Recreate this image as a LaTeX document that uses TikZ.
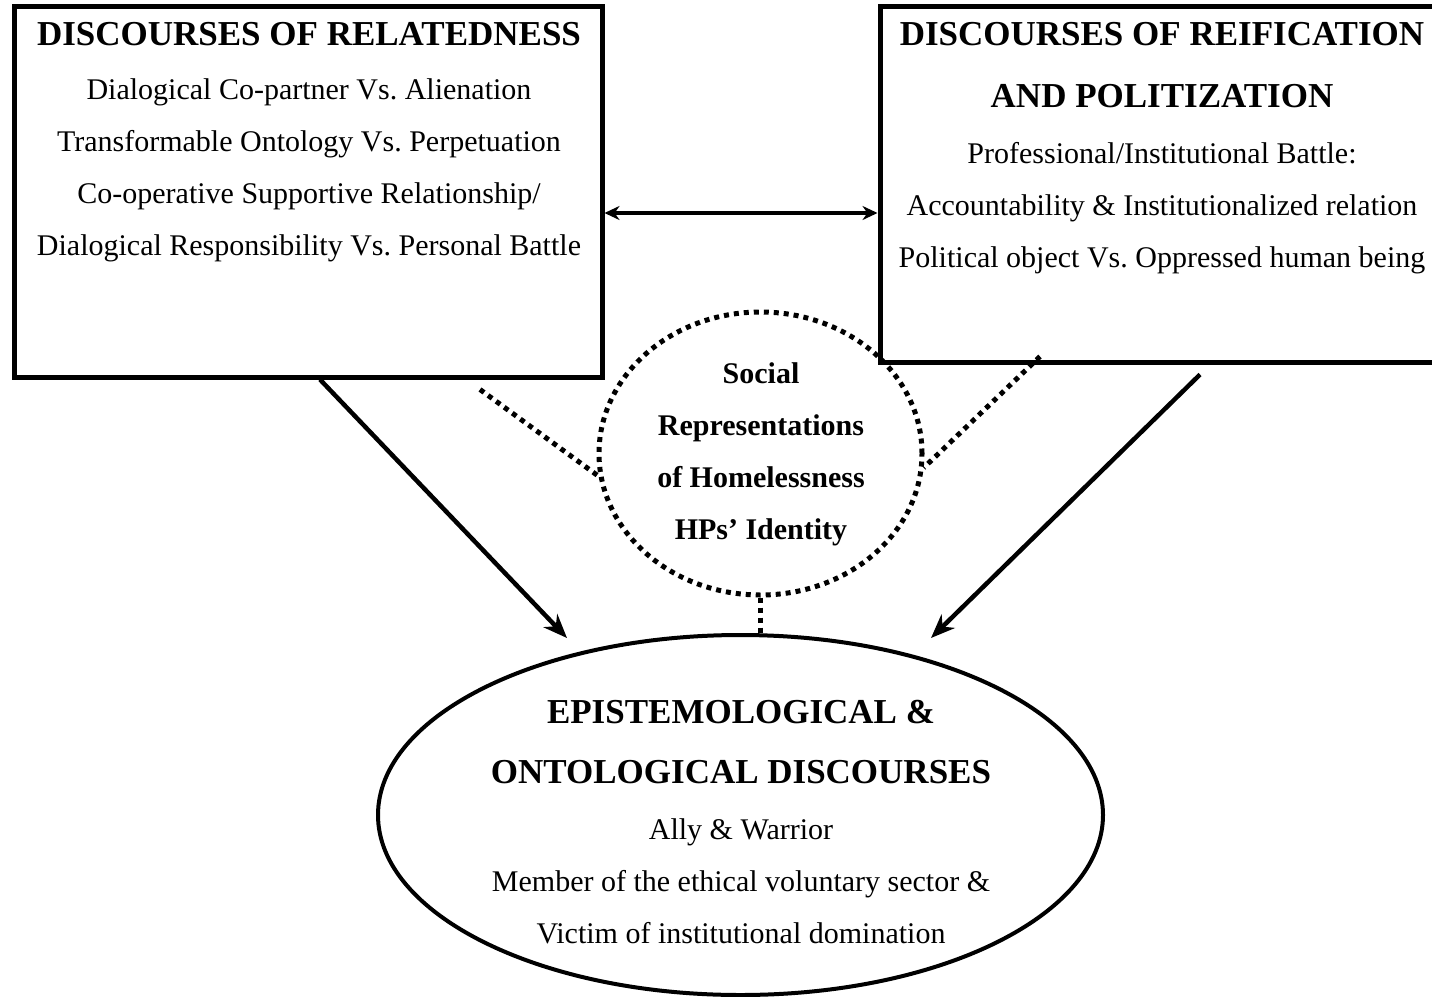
\documentclass[tikz,border=0pt]{standalone}
\usepackage{fontspec}
\setmainfont{Liberation Serif}
\usetikzlibrary{positioning,arrows.meta,shapes.geometric}
\newcommand{\hd}[1]{{\fontsize{35}{52}\selectfont\bfseries #1}}
\frenchspacing

\begin{document}
\begin{tikzpicture}[x=1pt,y=-1pt,every node/.style={inner sep=0pt},
  box/.style={draw,line width=5pt},
  txt/.style={anchor=north,align=center,font=\fontsize{30}{52}\selectfont},
  dots/.style={line width=5pt,dash pattern=on 5pt off 5pt},
  arr/.style={line width=4.5pt,-{Stealth[length=24pt,width=19pt]}},
  dbl/.style={line width=4.5pt,{Stealth[length=15pt,width=14pt]}-{Stealth[length=15pt,width=14pt]}}]
\useasboundingbox (0,0) rectangle (1432,996);
% boxes, circle and ellipse
\node[box,minimum width=588pt,minimum height=371pt] (rel) at (308,191.5) {};
\node[box,minimum width=565pt,minimum height=356pt] (reif) at (1162.5,184) {};
\node[ellipse,dots,draw,minimum width=323pt,minimum height=283pt] (soc) at (760.5,453.5) {};
\node[ellipse,draw,line width=4pt,minimum width=725pt,minimum height=360pt] (epi) at (740.5,815) {};
% texts
\node[txt] (reltxt) at (309,22) {\hd{DISCOURSES OF RELATEDNESS}\\[2pt]
  Dialogical Co-partner Vs. Alienation\\
  Transformable Ontology Vs. Perpetuation\\
  Co-operative Supportive Relationship/\\
  Dialogical Responsibility Vs. Personal Battle};
\node[txt] (reiftxt) at (1162,22) {\hd{DISCOURSES OF REIFICATION}\\[10pt]
  \hd{AND POLITIZATION}\\[4pt]
  Professional/Institutional Battle:\\
  Accountability \& Institutionalized relation\\
  Political object Vs. Oppressed human being};
\node[txt,font=\fontsize{30}{52}\selectfont\bfseries] (soctxt) at (761,362) {Social\\
  Representations\\ of Homelessness\\ HPs’ Identity};
\node[txt] (epitxt) at (741,700) {\hd{EPISTEMOLOGICAL \&}\\[8pt]
  \hd{ONTOLOGICAL DISCOURSES}\\[4pt]
  Ally \& Warrior\\
  Member of the ethical voluntary sector \&\\
  Victim of institutional domination};
% connectors
\coordinate (tipL) at (567,638);
\coordinate (tipR) at (931,638);
\draw[dbl] ([yshift=-21.5pt]rel.east) -- ([yshift=-21.5pt]rel.east -| reif.west);
\draw[arr] ([xshift=12pt]rel.south) -- (tipL);
\draw[arr] ([shift={(37.5pt,-10pt)}]reif.south) -- (tipR);
\draw[dots] ([shift={(172pt,-10pt)}]rel.south) -- (soc.188);
\draw[dots] ([shift={(-122.5pt,8pt)}]reif.south) -- (soc.-5);
\draw[dots] (soc.south) -- (soc.south |- epi.north);
\end{tikzpicture}
\end{document}
